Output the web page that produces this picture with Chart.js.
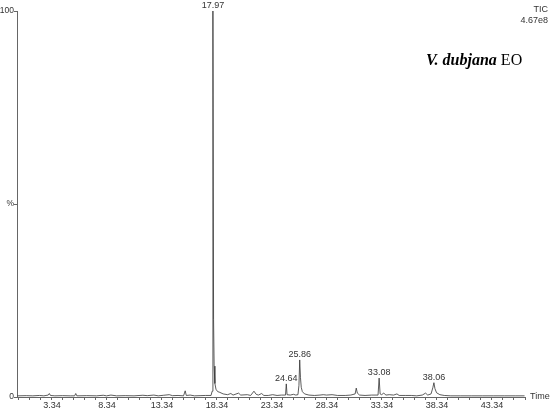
<!DOCTYPE html>
<html>
<head>
<meta charset="utf-8">
<script src="https://cdn.jsdelivr.net/npm/chart.js@4/dist/chart.umd.min.js"></script>
<style>
  html, body { margin: 0; padding: 0; background: #fff; }
  #wrap { width: 550px; height: 412px; position: relative; }
</style>
</head>
<body>
<div id="wrap"><canvas id="tic" width="550" height="412"></canvas></div>
<script>
// retention time (min) and relative abundance (%)
const retentionTimes = [
    0.2, 1.0, 1.6, 2.2, 2.6, 3.0, 3.1, 3.2, 3.6, 4.3, 5.0, 5.4, 5.5, 5.6, 6.5, 7.4, 8.0, 8.3, 8.7, 9.2,
    10.0, 10.8, 11.6, 12.0, 12.6, 13.0, 13.5, 14.0, 14.3, 14.8, 15.3, 15.45, 15.55, 15.9, 16.3, 16.8, 17.3, 17.8,
    17.9, 17.97, 18.03, 18.08, 18.15, 18.25, 18.4, 18.6, 18.9, 19.3, 19.6, 19.8, 20.3, 20.5, 21.1, 21.4,
    21.7, 21.9, 22.1, 22.4, 22.6, 23.0, 23.4, 23.8, 24.2, 24.57, 24.64, 24.71, 25.0, 25.3, 25.5,
    25.7, 25.79, 25.86, 25.93, 26.0, 26.1, 26.3, 26.7, 27.2, 27.7, 28.0, 28.3, 28.8, 29.3, 30.0, 30.5, 30.9,
    31.0, 31.1, 31.3, 31.8, 32.4, 32.98, 33.08, 33.17, 33.3, 33.5, 33.7, 34.0, 34.4, 34.7, 34.9, 35.5,
    36.0, 36.5, 37.0, 37.3, 37.5, 37.8, 37.96, 38.06, 38.15, 38.3, 38.6, 39.0, 39.6, 40.5, 41.5, 42.5, 43.5,
    44.5, 45.5, 46.3
];
const abundance = [
    0.3, 0.35, 0.3, 0.4, 0.3, 0.5, 0.9, 0.4, 0.3, 0.35, 0.3, 0.3, 0.9, 0.3, 0.35, 0.3, 0.45, 0.3, 0.5, 0.3,
    0.35, 0.3, 0.45, 0.35, 0.5, 0.3, 0.45, 0.6, 0.35, 0.4, 0.3, 1.6, 0.4, 0.5, 0.3, 0.35, 0.4, 0.4,
    1.5, 100, 20, 8, 3.5, 2, 1.4, 1.2, 0.8, 0.6, 0.9, 0.5, 1.0, 0.5, 0.6, 0.4,
    1.5, 0.7, 0.5, 0.9, 0.4, 0.4, 0.6, 0.4, 0.5, 0.5, 3.4, 0.6, 0.5, 0.7, 0.5,
    0.6, 3, 9.6, 5, 2.5, 1.4, 0.8, 0.5, 0.4, 0.5, 0.6, 0.5, 0.6, 0.4, 0.4, 0.5, 0.8,
    2.3, 1.0, 0.5, 0.4, 0.5, 0.5, 4.9, 0.8, 0.6, 1.0, 0.5, 0.6, 0.5, 0.8, 0.4, 0.4,
    0.4, 0.3, 0.5, 1.0, 0.5, 0.8, 2.4, 3.7, 2.2, 1.1, 0.6, 0.4, 0.3, 0.3, 0.3, 0.3, 0.3,
    0.3, 0.3, 0.3
];
// annotated peaks
const peakLabels = ['17.97', '24.64', '25.86', '33.08', '38.06'];
const peakTimes = [17.97, 24.64, 25.86, 33.08, 38.06];
const peakHeights = [100, 3.4, 9.6, 4.9, 3.7];
// axis ticks
const xMajorTicks = [3.34, 8.34, 13.34, 18.34, 23.34, 28.34, 33.34, 38.34, 43.34];
const yTicks = [0, 50, 100];
const yTickLabels = ['0', '%', '100'];

const AXIS = '#666';
const TEXT = '#333';
const SANS = '"Liberation Sans", Arial, sans-serif';
const SERIF = '"Liberation Serif", "Times New Roman", serif';

const points = retentionTimes.map((t, i) => ({ x: t, y: abundance[i] }));

const annotations = {
    id: 'annotations',
    afterDatasetsDraw(chart) {
        const { ctx, scales: { x, y }, chartArea } = chart;
        ctx.save();
        ctx.fillStyle = TEXT;
        ctx.font = '9px ' + SANS;
        ctx.textAlign = 'center';
        ctx.textBaseline = 'bottom';
        peakLabels.forEach((lbl, i) => {
            ctx.fillText(lbl, x.getPixelForValue(peakTimes[i]), y.getPixelForValue(peakHeights[i]) - 1);
        });

        ctx.textAlign = 'right';
        ctx.textBaseline = 'middle';
        ctx.fillText('TIC', 548, 10);
        ctx.fillText('4.67e8', 548, 21);

        ctx.textAlign = 'left';
        ctx.fillText('Time', chartArea.right + 5, chartArea.bottom);

        ctx.textBaseline = 'alphabetic';
        ctx.fillStyle = '#000';
        ctx.font = 'italic bold 16px ' + SERIF;
        const name = 'V. dubjana';
        ctx.fillText(name, 426, 65);
        const w = ctx.measureText(name).width;
        ctx.font = '16px ' + SERIF;
        ctx.fillText('EO', 426 + w + 4, 65);
        ctx.restore();
    }
};

new Chart(document.getElementById('tic'), {
    type: 'line',
    data: {
        datasets: [{
            data: points,
            borderColor: '#333',
            borderWidth: 0.8,
            pointRadius: 0,
            tension: 0,
            fill: false,
        }]
    },
    options: {
        responsive: false,
        animation: false,
        devicePixelRatio: 1,
        layout: { padding: { top: 11, right: 25, left: 0, bottom: 0 } },
        plugins: { legend: { display: false }, tooltip: { enabled: false } },
        scales: {
            x: {
                type: 'linear',
                min: 0.16,
                max: 46.34,
                afterBuildTicks(scale) {
                    const ticks = [];
                    for (let v = 0.34; v <= 46.35; v += 1) ticks.push({ value: Math.round(v * 100) / 100 });
                    scale.ticks = ticks;
                },
                afterFit(scale) { scale.height = 15; },
                border: { color: AXIS, width: 1 },
                grid: { drawOnChartArea: false, color: AXIS, tickLength: 3 },
                ticks: {
                    autoSkip: false,
                    maxRotation: 0,
                    padding: 0,
                    color: TEXT,
                    font: { family: SANS, size: 9 },
                    callback: (v) => {
                        const m = xMajorTicks.find((t) => Math.abs(t - v) < 0.01);
                        return m !== undefined ? m.toFixed(2) : '';
                    }
                }
            },
            y: {
                min: 0,
                max: 100,
                afterBuildTicks(scale) { scale.ticks = yTicks.map((v) => ({ value: v })); },
                afterFit(scale) { scale.width = 17; },
                border: { color: AXIS, width: 1 },
                grid: { drawOnChartArea: false, color: AXIS, tickLength: 3 },
                ticks: {
                    padding: 0,
                    color: TEXT,
                    font: { family: SANS, size: 8.5 },
                    callback: (v) => yTickLabels[yTicks.indexOf(v)]
                }
            }
        }
    },
    plugins: [annotations]
});
</script>
</body>
</html>
